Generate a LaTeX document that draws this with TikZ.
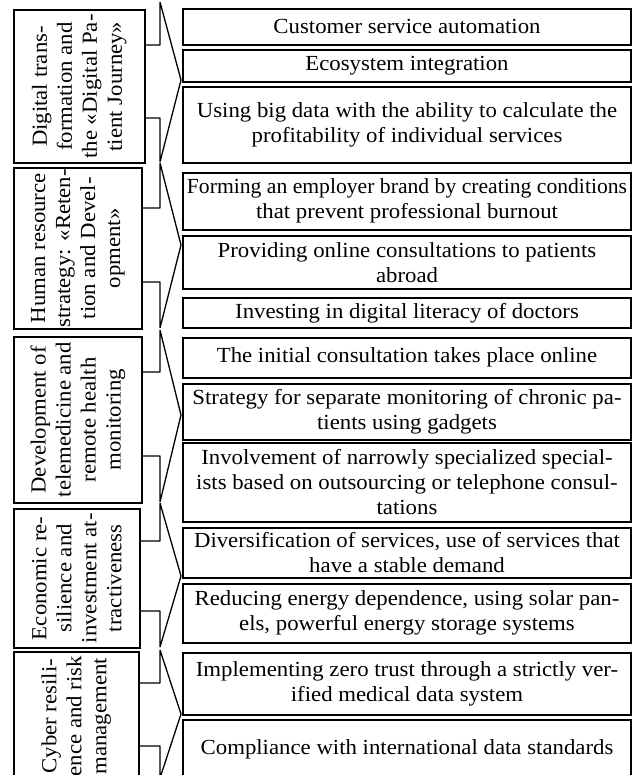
\documentclass[tikz,border=0pt]{standalone}
\usepackage{graphicx}
\usepackage{fontspec}
\setmainfont[FakeStretch=1.06]{Liberation Serif}
\newcommand{\itemfont}{\fontsize{21.5}{25}\selectfont}

\begin{document}
\begin{tikzpicture}[
        x=1pt, y=-1pt,
        item/.style={draw, line width=1.6pt, minimum width=448pt,
            inner xsep=1pt, inner ysep=0pt, align=center, anchor=north, font=\itemfont},
        area/.style={draw, line width=1.6pt, anchor=north west, inner sep=0pt},
        areatext/.style={rotate=90, align=center, inner sep=0pt, font=\itemfont},
        brace/.style={draw, line width=1.3pt, line join=bevel},
    ]
        \useasboundingbox (0,0) rectangle (633,775);
        \clip (0,0) rectangle (633,775);

        % Directions on the left (text turned upwards)
        \foreach \n/\xr/\ya/\yb/\txt in {
            1/144/9.5/162/{Digital trans-\\formation and\\the «Digital Pa-\\tient Journey»},
            2/141/167/328/{Human resource\\strategy: «Reten-\\tion and Devel-\\opment»},
            3/141/336/502/{Development of\\telemedicine and\\remote health\\monitoring},
            4/139/508/647/{Economic re-\\silience and\\investment at-\\tractiveness},
            5/138/651/780/{Cyber resili-\\ence and risk\\management}} {
            \node[area, minimum width=\xr pt-13pt, minimum height=\yb pt-\ya pt] (g\n) at (13,\ya) {};
            \node[areatext] at (g\n.center) {\txt};
        }

        % Measures on the right
        \foreach \n/\ya/\yb/\txt in {
            1/8/44/{Customer service automation},
            2/49/81/{Ecosystem integration},
            3/86/162/{Using big data with the ability to calculate the\\profitability of individual services},
            4/172/229/{\scalebox{0.95}[1]{Forming an employer brand by creating conditions}\\that prevent professional burnout},
            5/235/288/{Providing online consultations to patients\\abroad},
            6/297/327/{Investing in digital literacy of doctors},
            7/337/377/{The initial consultation takes place online},
            8/383/439/{Strategy for separate monitoring of chronic pa-\\tients using gadgets},
            9/442/521/{Involvement of narrowly specialized special-\\ists based on outsourcing or telephone consul-\\tations},
            10/527/577/{Diversification of services, use of services that\\have a stable demand},
            11/583/642/{Reducing energy dependence, using solar pan-\\els, powerful energy storage systems},
            12/652/714/{Implementing zero trust through a strictly ver-\\ified medical data system},
            13/719/778/{Compliance with international data standards}} {
            \node[item, minimum height=\yb pt-\ya pt] (it\n) at (407,\ya) {\txt};
        }

        % Braces from each direction to its measures
        \foreach \n/\ya/\yb/\tip/\sa/\sb in {
            1/2/162/80/45/118,
            2/163/328/245/208/282,
            3/330/502/415/372/456,
            4/503/647/576/541/611,
            5/650/778/714/683/746} {
            \draw[brace] (g\n.east |- 0,\sa) -- (160,\sa) -- (160,\ya) -- (181,\tip)
                -- (160,\yb) -- (160,\sb) -- (g\n.east |- 0,\sb);
        }
    \end{tikzpicture}
\end{document}
